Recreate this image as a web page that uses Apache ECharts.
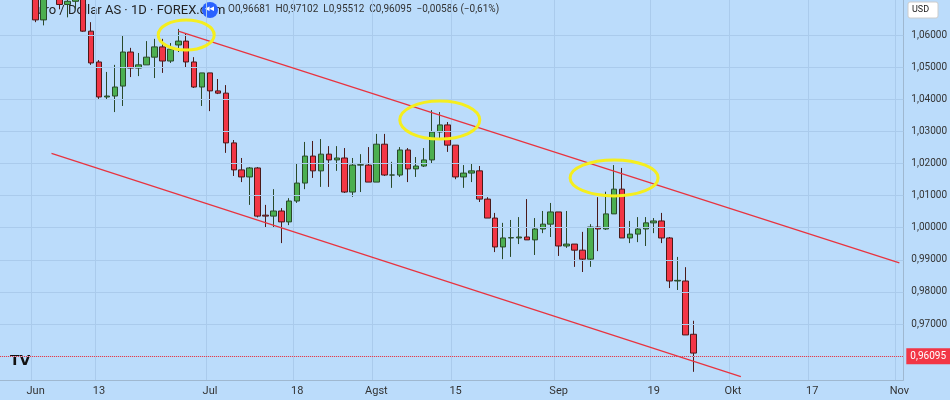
<!DOCTYPE html>
<html><head><meta charset="utf-8">
<script src="https://cdn.jsdelivr.net/npm/echarts@6/dist/echarts.min.js"></script>
<style>html,body{margin:0;padding:0;background:#bbdcfb}#c{width:950px;height:400px}</style>
</head><body><div id="c"></div>
<script>
// candles from 2022-06-01 to 2022-09-26 (trading days)
const candleStart = '2022-06-01';
const openV  = [1.0730,1.0647,1.0750,1.0720,1.0695,1.0705,1.0716,1.0612,1.0516,1.0407,1.0410,1.0441,1.0547,1.0497,1.0507,1.0531,1.0563,1.0519,1.0569,1.0581,1.0516,1.0438,
  1.0482,1.0426,1.0419,1.0264,1.0180,1.0158,1.0186,1.0039,1.0036,1.0052,1.0018,1.0083,1.0139,1.0223,1.0177,1.0229,1.0211,1.0217,1.0111,1.0195,1.0195,
  1.0142,1.0260,1.0164,1.0164,1.0242,1.0183,1.0192,1.0211,1.0298,1.0320,1.0257,1.0158,1.0170,1.0177,1.0089,1.0030,0.9940,0.9968,0.9968,0.9971,0.9962,0.9996,1.0011,
  1.0049,0.9943,0.9949,0.9930,0.9902,1.0002,0.9996,1.0043,1.0120,0.9968,0.9980,0.9996,1.0015,1.0021,0.9968,0.9834,0.9834,0.96681];
const closeV = [1.0647,1.0750,1.0720,1.0695,1.0705,1.0715,1.0612,1.0513,1.0407,1.0410,1.0438,1.0547,1.0497,1.0507,1.0531,1.0563,1.0519,1.0556,1.0581,1.0516,1.0438,1.0482,
  1.0426,1.0419,1.0264,1.0180,1.0158,1.0186,1.0036,1.0036,1.0052,1.0018,1.0083,1.0139,1.0223,1.0177,1.0229,1.0211,1.0217,1.0111,1.0195,1.0196,1.0142,
  1.0260,1.0164,1.0164,1.0242,1.0183,1.0192,1.0211,1.0298,1.0320,1.0257,1.0158,1.0170,1.0177,1.0089,1.0030,0.9940,0.9968,0.9969,0.9971,0.9962,0.9996,1.0011,1.0049,
  0.9943,0.9949,0.9930,0.9902,1.0002,0.9996,1.0043,1.0120,0.9968,0.9980,0.9996,1.0015,1.0021,0.9968,0.9834,0.9836,0.9666,0.96095];
const lowV   = [1.0640,1.0630,1.0710,1.0680,1.0655,1.0680,1.0610,1.0507,1.0401,1.0398,1.0360,1.0379,1.0469,1.0472,1.0507,1.0466,1.0482,1.0513,1.0547,1.0500,1.0435,1.0379,
  1.0363,1.0416,1.0233,1.0161,1.0142,1.0071,1.0032,1.0002,0.9999,0.9952,1.0008,1.0077,1.0120,1.0155,1.0127,1.0127,1.0177,1.0108,1.0096,1.0111,1.0142,
  1.0142,1.0161,1.0124,1.0158,1.0142,1.0158,1.0189,1.0201,1.0276,1.0236,1.0151,1.0124,1.0142,1.0080,1.0030,0.9924,0.9902,0.9909,0.9949,0.9962,0.9915,0.9983,0.9971,
  0.9912,0.9937,0.9878,0.9862,0.9878,0.9927,0.9993,1.0043,0.9968,0.9952,0.9955,0.9943,0.9983,0.9952,0.9812,0.9806,0.9666,0.95512];
const highV  = [1.0740,1.0755,1.0765,1.0750,1.0715,1.0745,1.0770,1.0640,1.0522,1.0485,1.0507,1.0600,1.0560,1.0544,1.0581,1.0588,1.0588,1.0575,1.0619,1.0603,1.0531,1.0482,
  1.0482,1.0463,1.0444,1.0273,1.0217,1.0189,1.0189,1.0071,1.0120,1.0061,1.0092,1.0201,1.0267,1.0270,1.0276,1.0254,1.0254,1.0248,1.0217,1.0229,1.0251,
  1.0292,1.0292,1.0205,1.0251,1.0248,1.0220,1.0248,1.0366,1.0360,1.0329,1.0257,1.0195,1.0201,1.0192,1.0095,1.0046,1.0015,1.0024,1.0033,1.0089,1.0030,1.0052,1.0077,
  1.0049,1.0052,0.9949,0.9987,1.0011,1.0095,1.0112,1.0195,1.0186,1.0021,1.0033,1.0033,1.0030,1.0046,0.9971,0.9909,0.9877,0.97102];
const xLabels = {'2022-06-01':'Jun','2022-06-13':'13','2022-07-01':'Jul','2022-07-18':'18','2022-08-01':'Agst','2022-08-15':'15',
  '2022-09-01':'Sep','2022-09-19':'19','2022-10-03':'Okt','2022-10-17':'17','2022-11-01':'Nov'};
const yTicks = [0.96,0.97,0.98,0.99,1.00,1.01,1.02,1.03,1.04,1.05,1.06];
const lastPrice = 0.96095;

// trading-day categories (weekdays) for the axis
const cats = [];
for (let d = new Date(Date.UTC(2022,4,26)); cats.length < 114; d.setUTCDate(d.getUTCDate()+1)) {
  const w = d.getUTCDay(); if (w===0||w===6) continue;
  cats.push(d.toISOString().slice(0,10));
}
const s0 = cats.indexOf(candleStart);
const data = cats.map((c,i)=>{const k=i-s0; return (k>=0&&k<openV.length)?[openV[k],closeV[k],lowV[k],highV[k]]:'-';});
const fmt = v => v.toFixed(5).replace('.',',');

const chart = echarts.init(document.getElementById('c'));
const red='#f23645', grn='#4caf50';
chart.setOption({
  animation:false,
  backgroundColor:'#bbdcfb',
  grid:{left:0,right:44,top:0,bottom:20},
  xAxis:{type:'category',data:cats,boundaryGap:true,
    axisLine:{show:true,lineStyle:{color:'#9fb8d0'}},axisTick:{show:false},
    axisLabel:{interval:(i,v)=>!!xLabels[v],formatter:v=>xLabels[v]||'',color:'#333',fontSize:11,fontFamily:'Roboto',margin:6},
    splitLine:{show:true,interval:(i,v)=>!!xLabels[v],lineStyle:{color:'#aacbec',width:1}}},
  yAxis:{type:'value',position:'right',min:0.95257,max:1.0709,scale:true,
    axisLine:{show:true,lineStyle:{color:'#9fb8d0'}},axisTick:{show:false},splitLine:{show:false},
    axisLabel:{customValues:yTicks,formatter:fmt,color:'#333',fontSize:10,fontFamily:'Roboto',margin:8}},
  graphic:[
    {type:'text',left:30,top:4,style:{text:'Euro / Dollar AS · 1D · FOREX.com',fill:'#222',font:'13px Roboto'}},
    {type:'circle',shape:{cx:210,cy:10,r:8},style:{fill:'#2962ff'}},
    {type:'text',left:205,top:4,style:{text:'◂◂',fill:'#fff',font:'bold 9px DejaVu Sans'}},
    {type:'text',left:228,top:4,style:{text:'O0,96681  H0,97102  L0,95512  C0,96095  −0,00586 (−0,61%)',fill:'#333',font:'10px Roboto'}},
    {type:'rect',shape:{x:908,y:2,width:30,height:16,r:2},style:{fill:'#fff',stroke:'#ccc'}},
    {type:'text',left:912,top:5,style:{text:'USD',fill:'#222',font:'9px Roboto'}},
    {type:'text',left:10,top:354,style:{text:'TV',fill:'#111',font:'bold 14px DejaVu Sans'}}
  ],
  series:[{type:'candlestick',data:data,barWidth:6,clip:true,
    itemStyle:{color:grn,color0:red,borderColor:'#2a4a2a',borderColor0:'#4a1a1a',borderWidth:1},
    markLine:{symbol:'none',silent:true,animation:false,data:[
      ...yTicks.map(v=>({yAxis:v,lineStyle:{color:'#aacbec',type:'solid',width:1},label:{show:false}})),
      {yAxis:lastPrice,lineStyle:{color:red,type:'dotted',width:1},
        label:{show:true,position:'end',formatter:fmt(lastPrice),color:'#fff',backgroundColor:red,padding:[3,4],fontSize:10,fontFamily:'Roboto',distance:3}},
      [{coord:[22,1.0612],lineStyle:{color:'#e8333f',type:'solid',width:1.2},label:{show:false}},{coord:[113,0.98903]}],
      [{coord:[6,1.02316],lineStyle:{color:'#e8333f',type:'solid',width:1.2},label:{show:false}},{coord:[93,0.95363]}]
    ]}}]
});
const ells=[[22.5,1.0600,28,15],[55.2,1.0335,40,19],[77.3,1.0155,44,18]];
const g=ells.map(e=>{const p=chart.convertToPixel({seriesIndex:0},[e[0],e[1]]);
  return {type:'ellipse',shape:{cx:p[0],cy:p[1],rx:e[2],ry:e[3]},style:{fill:'none',stroke:'#f5ee1e',lineWidth:3},z:100};});
chart.setOption({graphic:chart.getOption().graphic[0].elements.map(x=>({id:undefined})).length?[]:[]});
chart.setOption({graphic:g.map((x,i)=>Object.assign({id:'e'+i},x))});
</script></body></html>
